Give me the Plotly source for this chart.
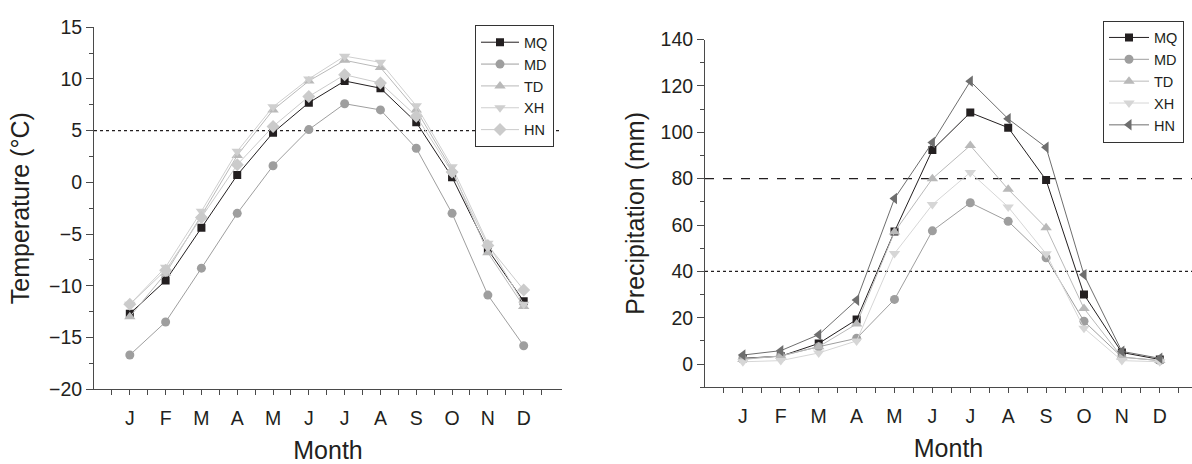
import plotly.graph_objects as go

months = ["J", "F", "M", "A", "M", "J", "J", "A", "S", "O", "N", "D"]
month_num = list(range(1, 13))
sites = ["MQ", "MD", "TD", "XH", "HN"]

# Temperature (°C)
temp_MQ = [-12.7, -9.5, -4.4, 0.7, 4.8, 7.7, 9.8, 9.1, 5.8, 0.5, -6.5, -11.5]
temp_MD = [-16.7, -13.5, -8.3, -3.0, 1.6, 5.1, 7.6, 7.0, 3.3, -3.0, -10.9, -15.8]
temp_TD = [-13.0, -8.8, -3.2, 2.6, 7.0, 9.8, 11.8, 11.1, 7.0, 1.2, -6.8, -12.0]
temp_XH = [-11.8, -8.2, -2.8, 3.0, 7.3, 10.0, 12.2, 11.6, 7.4, 1.5, -5.9, -11.8]
temp_HN = [-11.8, -8.5, -3.4, 1.7, 5.4, 8.3, 10.4, 9.6, 6.4, 1.0, -6.1, -10.4]

# Precipitation (mm)
prec_MQ = [2.5, 3.4, 8.9, 19.2, 57.2, 92.4, 108.5, 102.0, 79.4, 30.0, 5.0, 2.0]
prec_MD = [2.3, 3.5, 7.5, 11.1, 27.9, 57.5, 69.6, 61.6, 45.9, 18.5, 3.0, 1.5]
prec_TD = [2.0, 3.5, 7.5, 17.3, 57.0, 80.0, 94.3, 75.4, 58.8, 24.0, 3.0, 1.5]
prec_XH = [1.0, 1.5, 4.8, 10.0, 47.7, 68.8, 82.7, 67.8, 47.6, 15.5, 1.5, 1.0]
prec_HN = [3.9, 5.8, 12.7, 27.6, 71.4, 95.6, 122.0, 105.8, 93.5, 38.5, 5.5, 2.5]

temp_ticks = [-20, -15, -10, -5, 0, 5, 10, 15]
prec_ticks = [0, 20, 40, 60, 80, 100, 120, 140]
temp_threshold = 5
prec_thresholds = [80, 40]

FONT = "Liberation Sans, Arial, Helvetica, sans-serif"
TXT = "#231f20"
AX = "#4a4a4a"

temp_style = {
    "MQ": dict(color="#231f20", symbol="square", size=8),
    "MD": dict(color="#9e9e9e", symbol="circle", size=9),
    "TD": dict(color="#b9b9b9", symbol="triangle-up", size=10),
    "XH": dict(color="#cfcfcf", symbol="triangle-down", size=10),
    "HN": dict(color="#cbcbcb", symbol="diamond", size=10),
}
prec_style = {
    "MQ": dict(color="#231f20", symbol="square", size=8),
    "MD": dict(color="#9e9e9e", symbol="circle", size=9),
    "TD": dict(color="#b9b9b9", symbol="triangle-up", size=10),
    "XH": dict(color="#d6d6d6", symbol="triangle-down", size=10),
    "HN": dict(color="#6e6e6e", symbol="triangle-left", size=10),
}

temps = dict(MQ=temp_MQ, MD=temp_MD, TD=temp_TD, XH=temp_XH, HN=temp_HN)
precs = dict(MQ=prec_MQ, MD=prec_MD, TD=prec_TD, XH=prec_XH, HN=prec_HN)

fig = go.Figure()
for s in sites:
    st = temp_style[s]
    fig.add_trace(go.Scatter(
        x=month_num, y=temps[s], mode="lines+markers", name=s,
        line=dict(color=st["color"], width=1),
        marker=dict(color=st["color"], symbol=st["symbol"], size=st["size"]),
        xaxis="x", yaxis="y", legend="legend",
    ))
for s in sites:
    st = prec_style[s]
    fig.add_trace(go.Scatter(
        x=month_num, y=precs[s], mode="lines+markers", name=s,
        line=dict(color=st["color"], width=1),
        marker=dict(color=st["color"], symbol=st["symbol"], size=st["size"]),
        xaxis="x2", yaxis="y2", legend="legend2",
    ))

W, H = 1192, 464

def fmt(v):
    return ("\u2212" + str(-v)) if v < 0 else str(v)

TICKFONT = dict(size=19.5, color=TXT, family=FONT)
TITLEFONT = dict(size=25, color=TXT, family=FONT)

xcommon = dict(
    tickmode="array", tickvals=month_num, ticktext=months,
    ticks="outside", ticklen=5, tickcolor=AX, tickwidth=1,
    showline=True, linecolor=AX, linewidth=1, showgrid=False, zeroline=False,
    tickfont=TICKFONT, ticklabelstandoff=6,
    minor=dict(tickmode="array", tickvals=[m - 0.5 for m in month_num] + [12.5],
               ticks="outside", ticklen=5, tickcolor=AX, showgrid=False),
    title=dict(text="Month", font=TITLEFONT, standoff=13),
)

fig.update_layout(
    width=W, height=H, margin=dict(l=0, r=0, t=0, b=0),
    paper_bgcolor="white", plot_bgcolor="white",
    font=dict(family=FONT, color=TXT),
    xaxis=dict(xcommon, domain=[94 / W, 562 / W], range=[0, 13.07], anchor="y"),
    yaxis=dict(
        domain=[1 - 397 / H, 1 - 17 / H], range=[-20, 15], anchor="x",
        tickmode="array", tickvals=temp_ticks, ticktext=[fmt(v) for v in temp_ticks],
        ticks="outside", ticklen=7, tickcolor=AX,
        minor=dict(tickmode="array", tickvals=[v + 2.5 for v in temp_ticks[:-1]],
                   ticks="outside", ticklen=4, tickcolor=AX, showgrid=False),
        showline=True, linecolor=AX, linewidth=1, showgrid=False, zeroline=False,
        tickfont=TICKFONT,
        title=dict(text="Temperature (°C)", font=TITLEFONT, standoff=12),
    ),
    xaxis2=dict(xcommon, domain=[705 / W, 1.0], range=[0, 12.85], anchor="y2"),
    yaxis2=dict(
        domain=[1 - 395 / H, 1 - 30 / H], range=[-10, 140], anchor="x2",
        tickmode="array", tickvals=prec_ticks, ticktext=[str(v) for v in prec_ticks],
        ticks="outside", ticklen=7, tickcolor=AX,
        minor=dict(tickmode="array", tickvals=[v + 10 for v in prec_ticks[:-1]] + [-10],
                   ticks="outside", ticklen=4, tickcolor=AX, showgrid=False),
        showline=True, linecolor=AX, linewidth=1, showgrid=False, zeroline=False,
        tickfont=TICKFONT,
        title=dict(text="Precipitation (mm)", font=TITLEFONT, standoff=8),
    ),
    legend=dict(
        x=475 / W, y=1 - 15 / H, xanchor="left", yanchor="top",
        bgcolor="white", bordercolor="#333333", borderwidth=1,
        font=dict(size=14.5, color=TXT, family=FONT), tracegroupgap=0,
        itemwidth=38,
    ),
    legend2=dict(
        x=1103 / W, y=1 - 10 / H, xanchor="left", yanchor="top",
        bgcolor="white", bordercolor="#333333", borderwidth=1,
        font=dict(size=14.5, color=TXT, family=FONT), tracegroupgap=0,
        itemwidth=40,
    ),
    showlegend=True,
)

fig.add_shape(type="line", xref="x domain", yref="y", x0=0, x1=1,
              y0=temp_threshold, y1=temp_threshold,
              line=dict(color="#231f20", width=1.3, dash="dot"), layer="below")
fig.add_shape(type="line", xref="x2 domain", yref="y2", x0=0, x1=1,
              y0=prec_thresholds[0], y1=prec_thresholds[0],
              line=dict(color="#231f20", width=1.3, dash="dash"), layer="below")
fig.add_shape(type="line", xref="x2 domain", yref="y2", x0=0, x1=1,
              y0=prec_thresholds[1], y1=prec_thresholds[1],
              line=dict(color="#231f20", width=1.3, dash="dot"), layer="below")

fig.write_html("out.html")
